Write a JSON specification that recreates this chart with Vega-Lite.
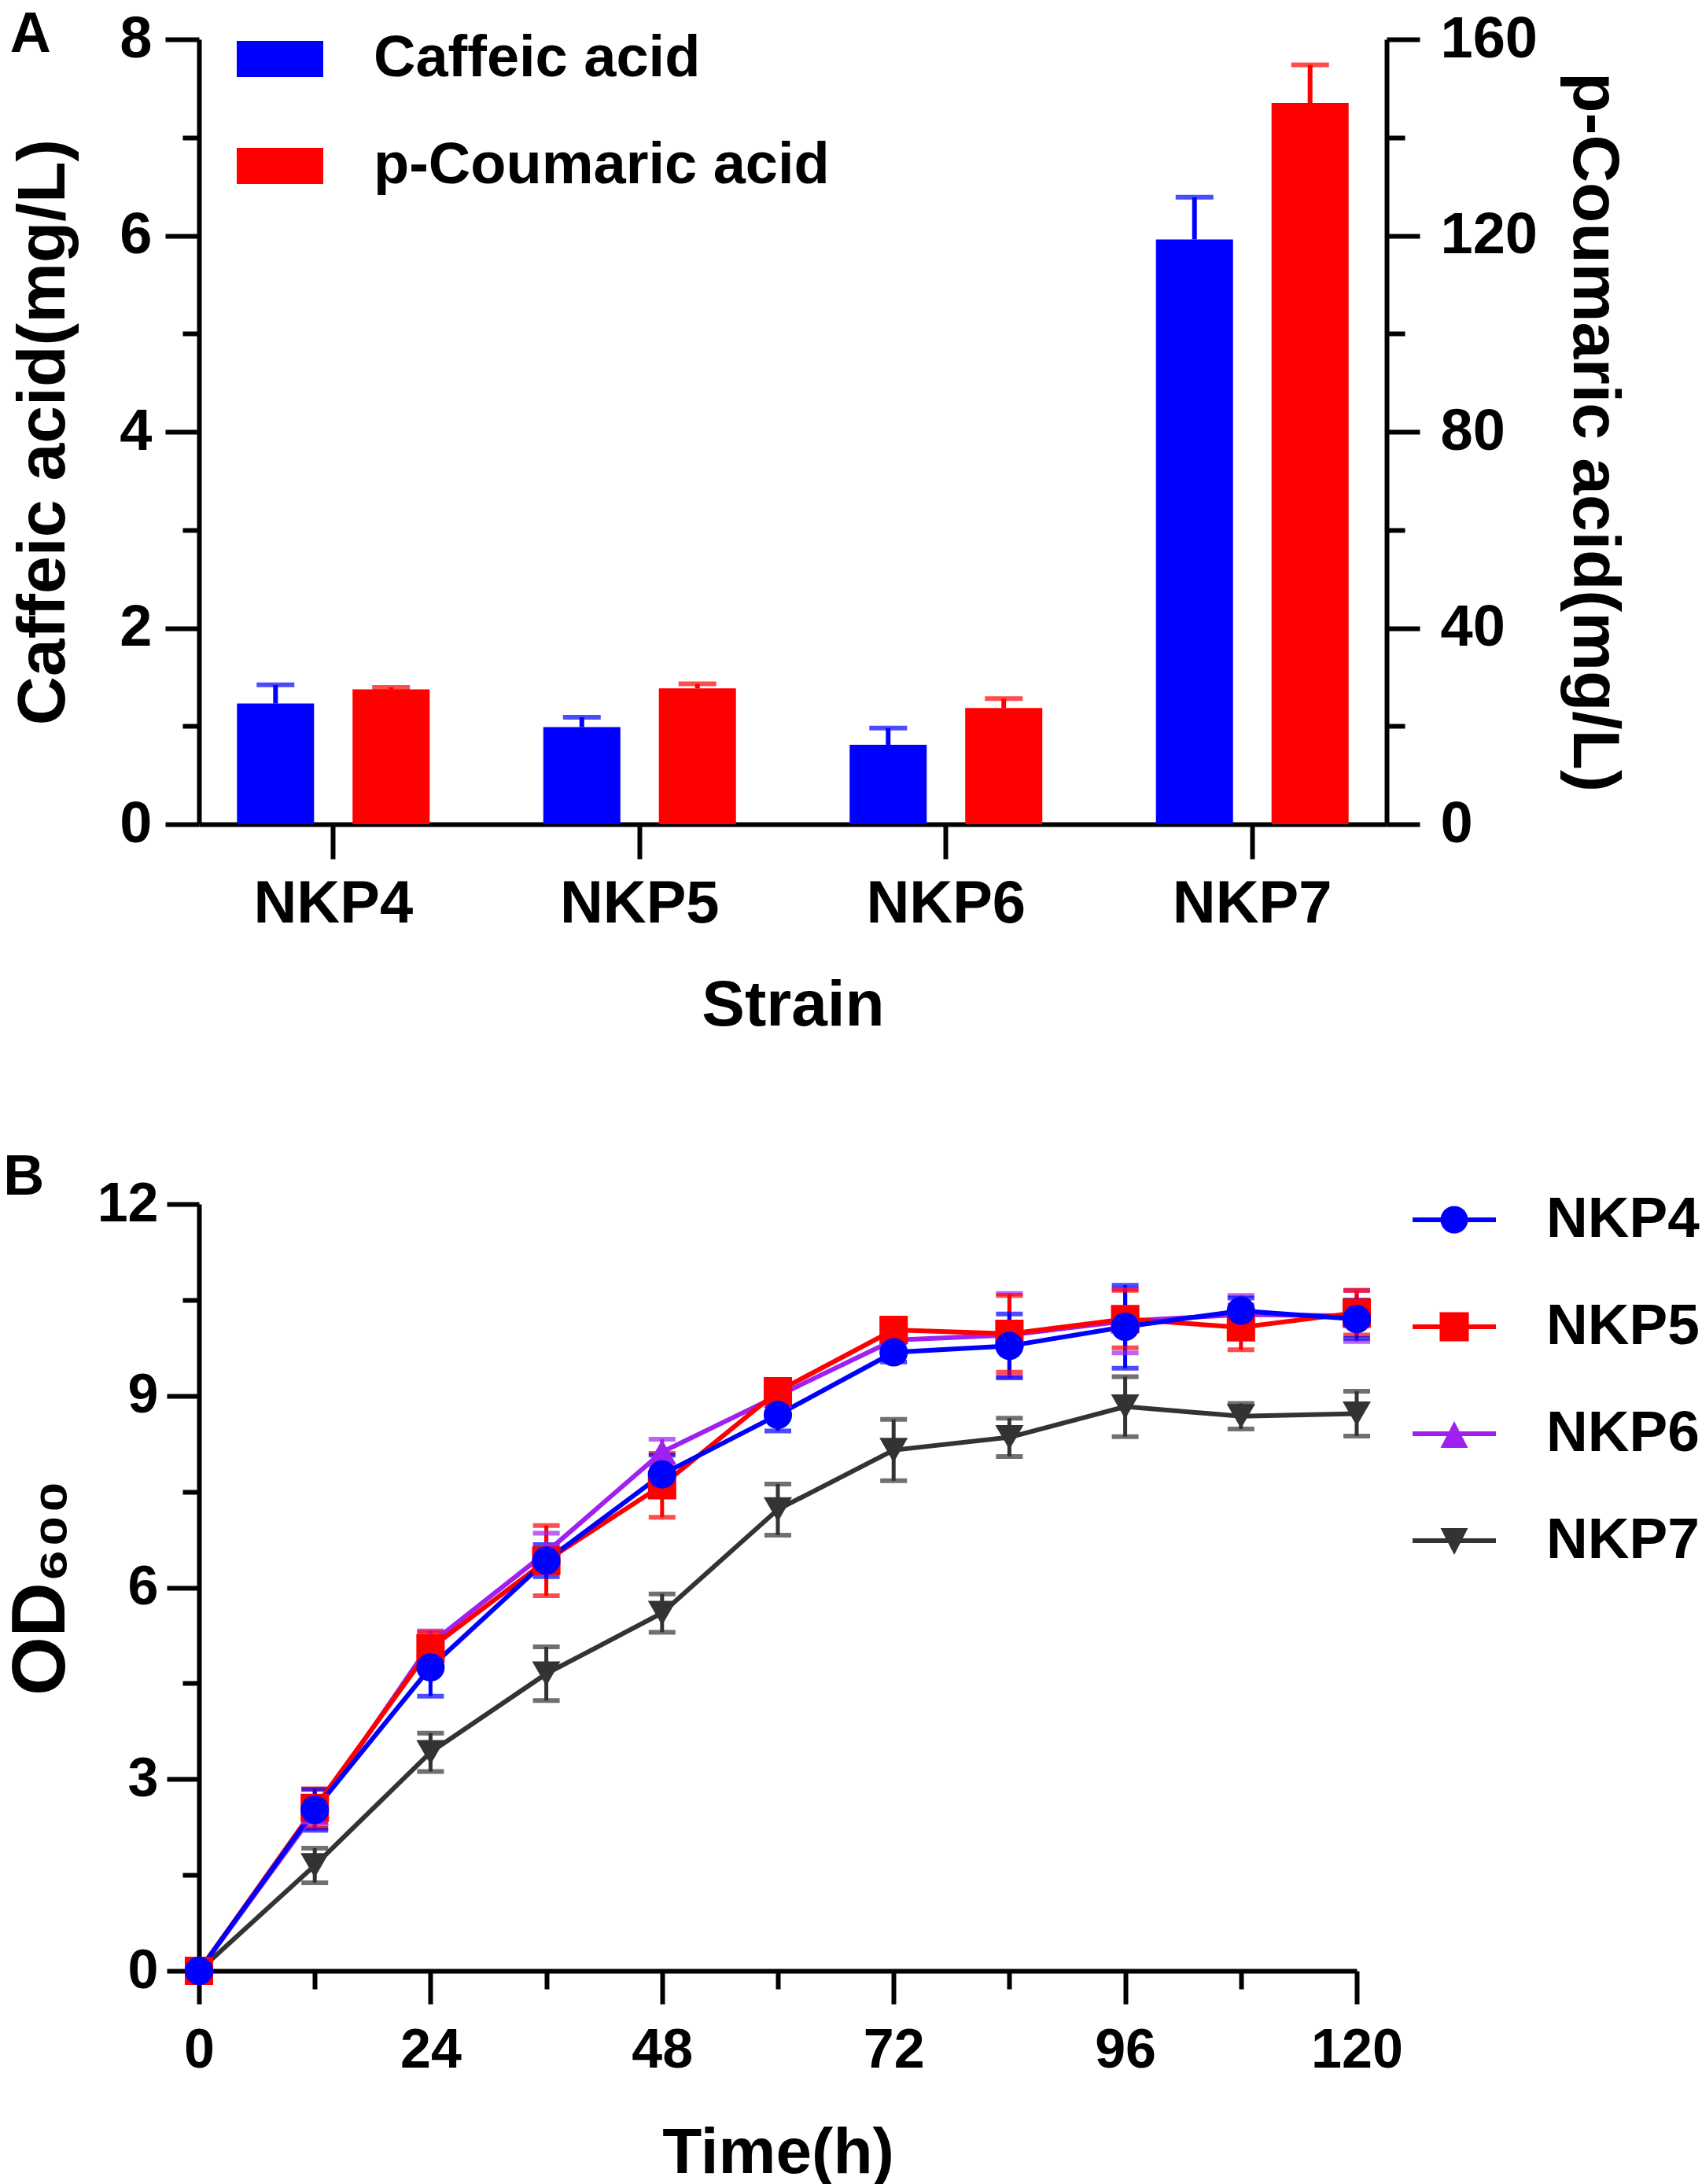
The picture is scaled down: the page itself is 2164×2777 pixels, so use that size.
{
  "$schema": "https://vega.github.io/schema/vega-lite/v6.json",
  "background": "white",
  "padding": {"left": 4, "top": 8, "right": 12, "bottom": 5},
  "spacing": 142,
  "config": {
    "view": {"stroke": null},
    "font": "Liberation Sans",
    "axis": {
      "grid": false,
      "domainColor": "#000000",
      "domainWidth": 6,
      "tickColor": "#000000",
      "tickWidth": 6,
      "labelFont": "Liberation Sans",
      "labelFontWeight": "bold",
      "labelColor": "#000000",
      "labelLimit": 1000,
      "titleFont": "Liberation Sans",
      "titleFontWeight": "bold",
      "titleColor": "#000000",
      "titleLimit": 2000
    },
    "legend": {
      "labelFont": "Liberation Sans",
      "labelFontWeight": "bold",
      "labelColor": "#000000",
      "labelLimit": 1000,
      "padding": 0,
      "symbolStrokeWidth": 0,
      "symbolOpacity": 1
    },
    "title": {
      "font": "Liberation Sans",
      "fontSize": 72,
      "fontWeight": "bold",
      "color": "#000000",
      "anchor": "start",
      "frame": "bounds",
      "baseline": "alphabetic"
    }
  },
  "resolve": {
    "scale": {"color": "independent", "stroke": "independent", "fill": "independent"},
    "legend": {"color": "independent"}
  },
  "datasets": {
    "caffeic": [
      {"strain": "NKP4", "acid": "Caffeic acid", "value": 1.23, "hi": 1.42},
      {"strain": "NKP5", "acid": "Caffeic acid", "value": 0.99, "hi": 1.09},
      {"strain": "NKP6", "acid": "Caffeic acid", "value": 0.81, "hi": 0.98},
      {"strain": "NKP7", "acid": "Caffeic acid", "value": 5.96, "hi": 6.39}
    ],
    "coumaric": [
      {"strain": "NKP4", "acid": "p-Coumaric acid", "value": 27.5, "hi": 27.9},
      {"strain": "NKP5", "acid": "p-Coumaric acid", "value": 27.7, "hi": 28.6},
      {"strain": "NKP6", "acid": "p-Coumaric acid", "value": 23.7, "hi": 25.6},
      {"strain": "NKP7", "acid": "p-Coumaric acid", "value": 147.0, "hi": 154.8}
    ],
    "growth": [
      {"t": 0, "strain": "NKP7", "v": 0, "lo": 0, "hi": 0},
      {"t": 12, "strain": "NKP7", "v": 1.65, "lo": 1.38, "hi": 1.92},
      {"t": 24, "strain": "NKP7", "v": 3.42, "lo": 3.12, "hi": 3.72},
      {"t": 36, "strain": "NKP7", "v": 4.65, "lo": 4.23, "hi": 5.07},
      {"t": 48, "strain": "NKP7", "v": 5.6, "lo": 5.3, "hi": 5.9},
      {"t": 60, "strain": "NKP7", "v": 7.22, "lo": 6.82, "hi": 7.62},
      {"t": 72, "strain": "NKP7", "v": 8.15, "lo": 7.67, "hi": 8.63},
      {"t": 84, "strain": "NKP7", "v": 8.35, "lo": 8.05, "hi": 8.65},
      {"t": 96, "strain": "NKP7", "v": 8.83, "lo": 8.36, "hi": 9.3},
      {"t": 108, "strain": "NKP7", "v": 8.68, "lo": 8.48, "hi": 8.88},
      {"t": 120, "strain": "NKP7", "v": 8.72, "lo": 8.37, "hi": 9.07},
      {"t": 0, "strain": "NKP6", "v": 0, "lo": 0, "hi": 0},
      {"t": 12, "strain": "NKP6", "v": 2.48, "lo": 2.23, "hi": 2.73},
      {"t": 24, "strain": "NKP6", "v": 5.12, "lo": 4.92, "hi": 5.32},
      {"t": 36, "strain": "NKP6", "v": 6.55, "lo": 6.25, "hi": 6.85},
      {"t": 48, "strain": "NKP6", "v": 8.12, "lo": 7.92, "hi": 8.32},
      {"t": 60, "strain": "NKP6", "v": 9.0, "lo": 8.85, "hi": 9.15},
      {"t": 72, "strain": "NKP6", "v": 9.87, "lo": 9.67, "hi": 10.07},
      {"t": 84, "strain": "NKP6", "v": 9.95, "lo": 9.3, "hi": 10.6},
      {"t": 96, "strain": "NKP6", "v": 10.17, "lo": 9.67, "hi": 10.67},
      {"t": 108, "strain": "NKP6", "v": 10.27, "lo": 9.97, "hi": 10.57},
      {"t": 120, "strain": "NKP6", "v": 10.25, "lo": 9.85, "hi": 10.65},
      {"t": 0, "strain": "NKP5", "v": 0, "lo": 0, "hi": 0},
      {"t": 12, "strain": "NKP5", "v": 2.55, "lo": 2.25, "hi": 2.85},
      {"t": 24, "strain": "NKP5", "v": 5.05, "lo": 4.8, "hi": 5.3},
      {"t": 36, "strain": "NKP5", "v": 6.42, "lo": 5.87, "hi": 6.97},
      {"t": 48, "strain": "NKP5", "v": 7.6, "lo": 7.1, "hi": 8.1},
      {"t": 60, "strain": "NKP5", "v": 9.07, "lo": 8.92, "hi": 9.22},
      {"t": 72, "strain": "NKP5", "v": 10.03, "lo": 9.88, "hi": 10.18},
      {"t": 84, "strain": "NKP5", "v": 9.97, "lo": 9.37, "hi": 10.57},
      {"t": 96, "strain": "NKP5", "v": 10.2, "lo": 9.75, "hi": 10.65},
      {"t": 108, "strain": "NKP5", "v": 10.07, "lo": 9.72, "hi": 10.42},
      {"t": 120, "strain": "NKP5", "v": 10.3, "lo": 9.95, "hi": 10.65},
      {"t": 0, "strain": "NKP4", "v": 0, "lo": 0, "hi": 0},
      {"t": 12, "strain": "NKP4", "v": 2.52, "lo": 2.2, "hi": 2.84},
      {"t": 24, "strain": "NKP4", "v": 4.75, "lo": 4.3, "hi": 5.2},
      {"t": 36, "strain": "NKP4", "v": 6.42, "lo": 6.17, "hi": 6.67},
      {"t": 48, "strain": "NKP4", "v": 7.77, "lo": 7.47, "hi": 8.07},
      {"t": 60, "strain": "NKP4", "v": 8.7, "lo": 8.45, "hi": 8.95},
      {"t": 72, "strain": "NKP4", "v": 9.68, "lo": 9.53, "hi": 9.83},
      {"t": 84, "strain": "NKP4", "v": 9.78, "lo": 9.28, "hi": 10.28},
      {"t": 96, "strain": "NKP4", "v": 10.08, "lo": 9.43, "hi": 10.73},
      {"t": 108, "strain": "NKP4", "v": 10.33, "lo": 10.13, "hi": 10.53},
      {"t": 120, "strain": "NKP4", "v": 10.2, "lo": 9.9, "hi": 10.5}
    ]
  },
  "vconcat": [
    {
      "width": 1510,
      "height": 998,
      "title": {"text": "A", "offset": -68},
      "layer": [
        {
          "data": {"name": "caffeic"},
          "encoding": {
            "x": {
              "field": "strain", "type": "nominal",
              "scale": {"domain": ["NKP4", "NKP5", "NKP6", "NKP7"], "paddingInner": 0.371, "paddingOuter": 0.124},
              "axis": {"title": "Strain", "labelAngle": 0, "labelFontSize": 76, "labelPadding": 20, "tickSize": 44, "titleFontSize": 82, "titlePadding": 51}
            },
            "xOffset": {
              "field": "acid", "type": "nominal",
              "scale": {"domain": ["Caffeic acid", "p-Coumaric acid"], "paddingInner": 0.333, "paddingOuter": 0}
            },
            "color": {
              "field": "acid", "type": "nominal",
              "scale": {"domain": ["Caffeic acid", "p-Coumaric acid"], "range": ["#0000FF", "#FF0000"]},
              "legend": {
                "title": null, "orient": "none", "legendX": 48, "legendY": -30,
                "symbolType": "M-1,-0.418H1V0.418H-1Z", "symbolSize": 12100,
                "labelFontSize": 74, "labelOffset": 64, "rowPadding": 44
              }
            },
            "y": {
              "field": "value", "type": "quantitative",
              "scale": {"domain": [0, 8], "nice": false},
              "axis": {
                "title": "Caffeic acid(mg/L)", "orient": "left",
                "values": [0, 1, 2, 3, 4, 5, 6, 7, 8],
                "labelExpr": "datum.value % 2 === 0 ? datum.label : ''",
                "tickSize": {"condition": {"test": "datum.value % 2 === 0", "value": 43}, "value": 21},
                "labelFontSize": 74, "labelPadding": 17,
                "titleFontSize": 86, "titlePadding": 52
              }
            }
          },
          "layer": [
            {"mark": {"type": "bar"}},
            {
              "mark": {"type": "rule", "strokeWidth": 6},
              "encoding": {"y2": {"field": "hi"}}
            },
            {
              "mark": {"type": "tick", "orient": "horizontal", "size": 48, "thickness": 6},
              "encoding": {
                "y": {
                  "field": "hi", "type": "quantitative",
                  "scale": {"domain": [0, 8], "nice": false},
                  "axis": {
                    "title": "Caffeic acid(mg/L)", "orient": "left",
                    "values": [0, 1, 2, 3, 4, 5, 6, 7, 8],
                    "labelExpr": "datum.value % 2 === 0 ? datum.label : ''",
                    "tickSize": {"condition": {"test": "datum.value % 2 === 0", "value": 43}, "value": 21},
                    "labelFontSize": 74, "labelPadding": 17,
                    "titleFontSize": 86, "titlePadding": 52
                  }
                }
              }
            }
          ]
        },
        {
          "data": {"name": "coumaric"},
          "encoding": {
            "x": {
              "field": "strain", "type": "nominal",
              "scale": {"domain": ["NKP4", "NKP5", "NKP6", "NKP7"], "paddingInner": 0.371, "paddingOuter": 0.124},
              "axis": {"title": "Strain", "labelAngle": 0, "labelFontSize": 76, "labelPadding": 20, "tickSize": 44, "titleFontSize": 82, "titlePadding": 51}
            },
            "xOffset": {
              "field": "acid", "type": "nominal",
              "scale": {"domain": ["Caffeic acid", "p-Coumaric acid"], "paddingInner": 0.333, "paddingOuter": 0}
            },
            "color": {
              "field": "acid", "type": "nominal",
              "scale": {"domain": ["Caffeic acid", "p-Coumaric acid"], "range": ["#0000FF", "#FF0000"]},
              "legend": {
                "title": null, "orient": "none", "legendX": 48, "legendY": -30,
                "symbolType": "M-1,-0.418H1V0.418H-1Z", "symbolSize": 12100,
                "labelFontSize": 74, "labelOffset": 64, "rowPadding": 44
              }
            },
            "y": {
              "field": "value", "type": "quantitative",
              "scale": {"domain": [0, 160], "nice": false},
              "axis": {
                "title": "p-Coumaric acid(mg/L)", "orient": "right",
                "values": [0, 20, 40, 60, 80, 100, 120, 140, 160],
                "labelExpr": "datum.value % 40 === 0 ? datum.label : ''",
                "tickSize": {"condition": {"test": "datum.value % 40 === 0", "value": 42}, "value": 23},
                "labelFontSize": 74, "labelPadding": 26,
                "titleFontSize": 84, "titlePadding": 28, "titleAngle": 90
              }
            }
          },
          "layer": [
            {"mark": {"type": "bar"}},
            {
              "mark": {"type": "rule", "strokeWidth": 6},
              "encoding": {"y2": {"field": "hi"}}
            },
            {
              "mark": {"type": "tick", "orient": "horizontal", "size": 48, "thickness": 6},
              "encoding": {
                "y": {
                  "field": "hi", "type": "quantitative",
                  "scale": {"domain": [0, 160], "nice": false},
                  "axis": {
                    "title": "p-Coumaric acid(mg/L)", "orient": "right",
                    "values": [0, 20, 40, 60, 80, 100, 120, 140, 160],
                    "labelExpr": "datum.value % 40 === 0 ? datum.label : ''",
                    "tickSize": {"condition": {"test": "datum.value % 40 === 0", "value": 42}, "value": 23},
                    "labelFontSize": 74, "labelPadding": 26,
                    "titleFontSize": 84, "titlePadding": 28, "titleAngle": 90
                  }
                }
              }
            }
          ]
        }
      ],
      "resolve": {"scale": {"y": "independent"}}
    },
    {
      "width": 1472,
      "height": 975,
      "title": {"text": "B", "offset": -38},
      "data": {"name": "growth"},
      "encoding": {
        "x": {
          "field": "t", "type": "quantitative",
          "scale": {"domain": [0, 120], "nice": false},
          "axis": {
            "title": "Time(h)",
            "values": [0, 12, 24, 36, 48, 60, 72, 84, 96, 108, 120],
            "labelExpr": "datum.value % 24 === 0 ? datum.label : ''",
            "tickSize": {"condition": {"test": "datum.value % 24 === 0", "value": 42}, "value": 23},
            "labelFontSize": 70, "labelPadding": 25, "labelFlush": false,
            "titleFontSize": 82, "titlePadding": 55
          }
        },
        "y": {
          "field": "v", "type": "quantitative",
          "scale": {"domain": [0, 12], "nice": false},
          "axis": {
            "title": "OD₆₀₀",
            "values": [0, 1.5, 3, 4.5, 6, 7.5, 9, 10.5, 12],
            "labelExpr": "datum.value % 3 === 0 ? datum.label : ''",
            "tickSize": {"condition": {"test": "datum.value % 3 === 0", "value": 41}, "value": 21},
            "labelFontSize": 70, "labelPadding": 11,
            "titleFontSize": 96, "titlePadding": 22
          }
        }
      },
      "layer": [
        {
          "mark": {"type": "rule", "strokeWidth": 5},
          "encoding": {
            "y": {"field": "lo", "type": "quantitative", "title": "OD₆₀₀"},
            "y2": {"field": "hi"},
            "stroke": {
              "field": "strain", "type": "nominal",
              "scale": {"domain": ["NKP7", "NKP6", "NKP5", "NKP4"], "range": ["#333333", "#A020F0", "#FF0000", "#0000FF"]},
              "legend": null
            }
          }
        },
        {
          "mark": {"type": "tick", "orient": "horizontal", "size": 34, "thickness": 6},
          "encoding": {
            "y": {"field": "lo", "type": "quantitative", "title": "OD₆₀₀"},
            "fill": {
              "field": "strain", "type": "nominal",
              "scale": {"domain": ["NKP7", "NKP6", "NKP5", "NKP4"], "range": ["#333333", "#A020F0", "#FF0000", "#0000FF"]},
              "legend": null
            }
          }
        },
        {
          "mark": {"type": "tick", "orient": "horizontal", "size": 34, "thickness": 6},
          "encoding": {
            "y": {"field": "hi", "type": "quantitative", "title": "OD₆₀₀"},
            "fill": {
              "field": "strain", "type": "nominal",
              "scale": {"domain": ["NKP7", "NKP6", "NKP5", "NKP4"], "range": ["#333333", "#A020F0", "#FF0000", "#0000FF"]},
              "legend": null
            }
          }
        },
        {
          "mark": {"type": "line", "strokeWidth": 6},
          "encoding": {
            "stroke": {
              "field": "strain", "type": "nominal",
              "scale": {"domain": ["NKP7", "NKP6", "NKP5", "NKP4"], "range": ["#333333", "#A020F0", "#FF0000", "#0000FF"]},
              "legend": null
            }
          }
        },
        {
          "transform": [{"filter": {"field": "strain", "equal": "NKP7"}}],
          "mark": {"type": "point", "shape": "triangle-down", "filled": true, "size": 1300, "opacity": 1},
          "encoding": {
            "color": {
              "field": "strain", "type": "nominal",
              "scale": {"domain": ["NKP4", "NKP5", "NKP6", "NKP7"], "range": ["#0000FF", "#FF0000", "#A020F0", "#333333"]},
              "legend": {
                "title": null, "orient": "none", "legendX": 1543, "legendY": -33,
                "symbolSize": 11236, "labelFontSize": 73, "labelOffset": 64, "rowPadding": 46,
                "encode": {
                  "symbols": {
                    "update": {
                      "shape": {"signal": "datum.value === 'NKP4' ? 'M-1,-0.057H1V0.057H-1Z M-0.33,0A0.33,0.33 0 1,1 0.33,0A0.33,0.33 0 1,1 -0.33,0Z' : datum.value === 'NKP5' ? 'M-1,-0.057H1V0.057H-1Z M-0.35,-0.35H0.35V0.35H-0.35Z' : datum.value === 'NKP6' ? 'M-1,-0.057H1V0.057H-1Z M0,-0.3L0.33,0.34H-0.33Z' : 'M-1,-0.057H1V0.057H-1Z M-0.33,-0.3H0.33L0,0.34Z'"}
                    }
                  }
                }
              }
            }
          }
        },
        {
          "transform": [{"filter": {"field": "strain", "equal": "NKP6"}}],
          "mark": {"type": "point", "shape": "triangle-up", "filled": true, "size": 1300, "opacity": 1},
          "encoding": {
            "color": {
              "field": "strain", "type": "nominal",
              "scale": {"domain": ["NKP4", "NKP5", "NKP6", "NKP7"], "range": ["#0000FF", "#FF0000", "#A020F0", "#333333"]}
            }
          }
        },
        {
          "transform": [{"filter": {"field": "strain", "equal": "NKP5"}}],
          "mark": {"type": "point", "shape": "square", "filled": true, "size": 1300, "opacity": 1},
          "encoding": {
            "color": {
              "field": "strain", "type": "nominal",
              "scale": {"domain": ["NKP4", "NKP5", "NKP6", "NKP7"], "range": ["#0000FF", "#FF0000", "#A020F0", "#333333"]}
            }
          }
        },
        {
          "transform": [{"filter": {"field": "strain", "equal": "NKP4"}}],
          "mark": {"type": "point", "shape": "circle", "filled": true, "size": 1300, "opacity": 1},
          "encoding": {
            "color": {
              "field": "strain", "type": "nominal",
              "scale": {"domain": ["NKP4", "NKP5", "NKP6", "NKP7"], "range": ["#0000FF", "#FF0000", "#A020F0", "#333333"]}
            }
          }
        }
      ]
    }
  ]
}
